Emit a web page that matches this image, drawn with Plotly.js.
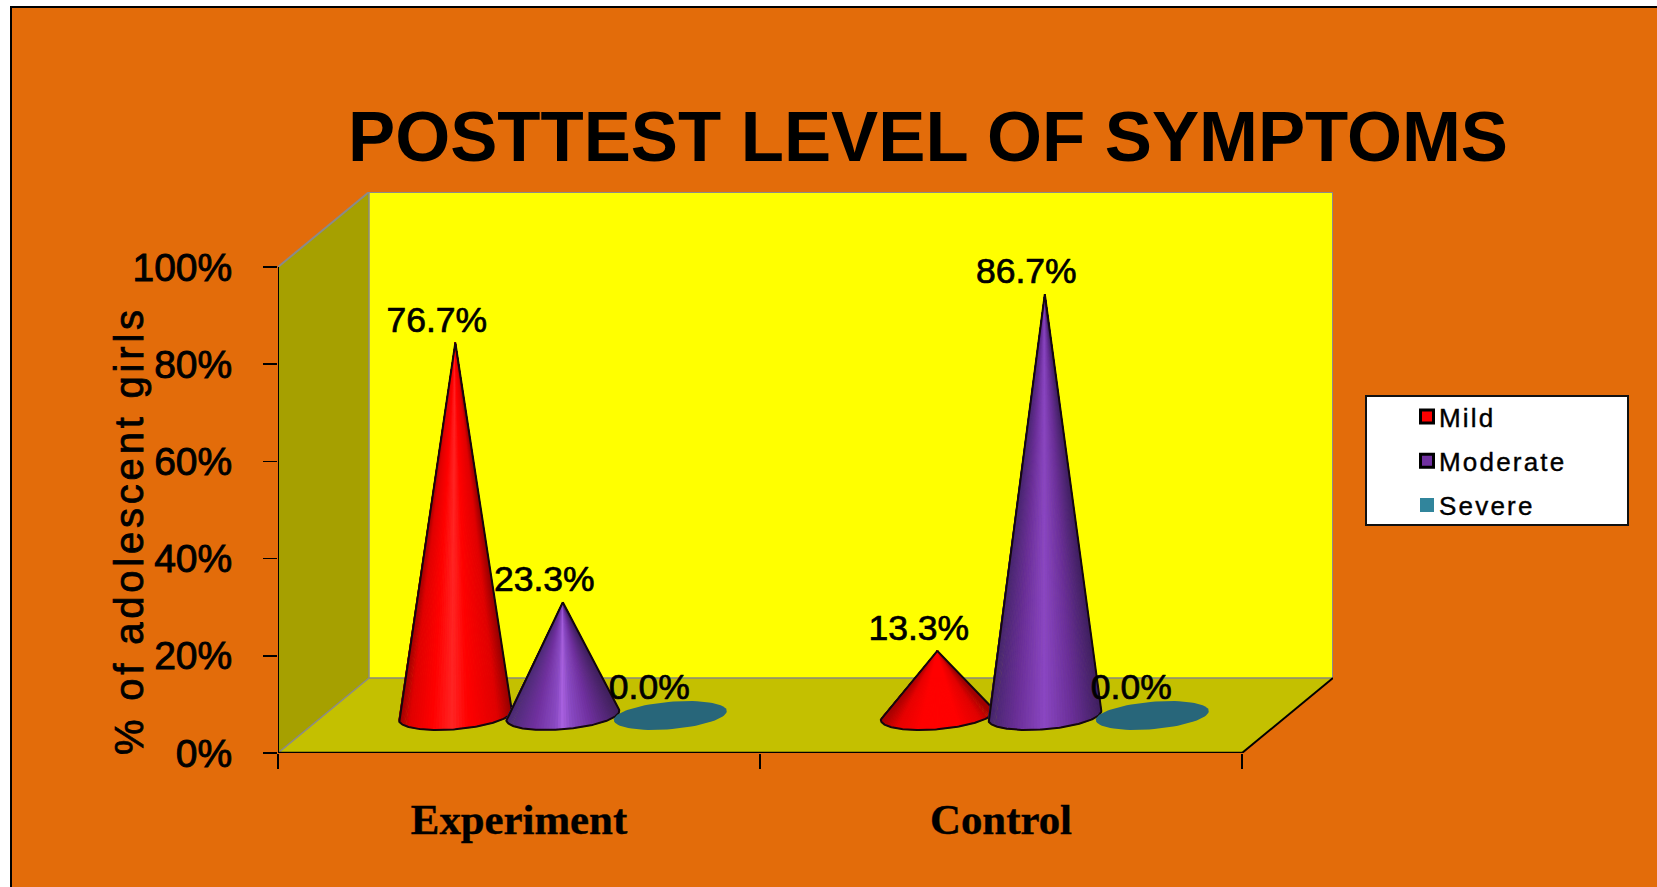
<!DOCTYPE html>
<html>
<head>
<meta charset="utf-8">
<script src="https://cdn.plot.ly/plotly-3.0.1.min.js"></script>
<style>
  html, body { margin: 0; padding: 0; background: #fff; overflow: hidden; }
  #chart { width: 1657px; height: 887px; }
  .legendtext { letter-spacing: 2.2px; stroke: #000; stroke-width: 0.4px; }
  .legendpoints path.scatterpts { transform: translate(28px, 0); }
  .annotation-text { letter-spacing: 3.8px; stroke: #000; stroke-width: 0.8px; }
  .ytick text { stroke: #000; stroke-width: 0.9px; }
  .xtick text { stroke: #000; stroke-width: 0.4px; }
  .textpoint text { stroke: #000; stroke-width: 0.7px; }
</style>
</head>
<body>
<div id="chart"></div>
<script>
// Survey results: share of girls at each symptom level after the posttest.
const categories = ['Experiment', 'Control'];
const seriesNames = ['Mild', 'Moderate', 'Severe'];
const mildValues = [76.7, 13.3];
const moderateValues = [23.3, 86.7];
const severeValues = [0.0, 0.0];
const yTicks = [0, 20, 40, 60, 80, 100];

const seriesValues = [mildValues, moderateValues, severeValues];

// Pixel frame of the front plane and the oblique depth of the box.
const W = 1657, H = 887;
const FRONT_L = 278, FRONT_B = 753, PX_PER_CAT = 482, PX_PER_PCT = 4.86;
const DEPTH_PX_X = 91, DEPTH_PX_Y = 75;
const PLOT_R = FRONT_L + 2 * PX_PER_CAT + DEPTH_PX_X;
const PLOT_T = FRONT_B - 100 * PX_PER_PCT - DEPTH_PX_Y;

const depthX = DEPTH_PX_X / PX_PER_CAT;      // depth vector in axis units
const depthY = DEPTH_PX_Y / PX_PER_PCT;
const xMax = 2 + depthX, yMax = 100 + depthY;

const baseRadiusX = 0.1114;                  // cone base radius along the category axis
const baseDepth = 0.193;                     // cone base radius as a share of the box depth
const seriesStep = 0.223;                    // spacing of cones within a category
const clusterShift = -0.0035;                // small nudge of each cluster along the category axis

const shading = [
  [[[0, '#9c0000'], [0.1, '#e00000'], [0.3, '#ff0000'], [0.48, '#ff2424'], [0.62, '#ff0000'], [0.88, '#e00000'], [1, '#960000']],
   [[0, '#a80000'], [0.14, '#e80000'], [0.35, '#ff0000'], [0.7, '#ff0000'], [0.9, '#e00000'], [1, '#a00000']]],
  [[[0, '#4a2a74'], [0.25, '#7030a0'], [0.44, '#8a4ac4'], [0.5, '#a860e0'], [0.58, '#8a4ac4'], [0.75, '#7030a0'], [1, '#40205e']],
   [[0, '#45266c'], [0.25, '#6a2f98'], [0.5, '#8a46c2'], [0.75, '#6a2f98'], [1, '#3f2060']]]
];
const flatColor = '#28667a';
const swatchColors = ['#ff0000', '#7030a0', '#31859c'];

const hexToRgb = h => [1, 3, 5].map(i => parseInt(h.substr(i, 2), 16));
function rampColor(stops, u) {
  for (let i = 1; i < stops.length; i++) {
    if (u <= stops[i][0]) {
      const f = (u - stops[i - 1][0]) / (stops[i][0] - stops[i - 1][0]);
      const a = hexToRgb(stops[i - 1][1]), b = hexToRgb(stops[i][1]);
      return 'rgb(' + a.map((v, k) => Math.round(v + (b[k] - v) * f)).join(',') + ')';
    }
  }
  return stops[stops.length - 1][1];
}

// Circle on the floor plane, seen through the oblique projection.
function basePoint(cx, cy, t) {
  return [
    cx + baseRadiusX * Math.cos(t) + baseDepth * depthX * Math.sin(t),
    cy + baseDepth * depthY * Math.sin(t)
  ];
}

function coneTraces(cx, cy, value, stops) {
  const N = 240;
  const apex = [cx, cy + value];
  const ring = [];
  for (let i = 0; i <= N; i++) ring.push(basePoint(cx, cy, Math.PI * 2 * i / N));
  // The rim segments facing the viewer lie on the near side of the tangents from the apex.
  const inFront = ring.slice(0, N).map((p, i) => {
    const q = ring[i + 1];
    return (p[0] - apex[0]) * (q[1] - p[1]) - (p[1] - apex[1]) * (q[0] - p[0]) > 0;
  });
  let start = 0;
  for (let i = 0; i < N; i++) if (inFront[i] && !inFront[(i + N - 1) % N]) start = i;
  const ordered = [];
  for (let k = 0; k < N; k++) {
    const i = (start + k) % N;
    ordered.push(ring[i]);
    if (!inFront[i]) break;
  }
  const arcPts = ordered[0][0] > ordered[ordered.length - 1][0] ? ordered.slice().reverse() : ordered;
  const x0 = arcPts[0][0], x1 = arcPts[arcPts.length - 1][0];

  const traces = [];
  const step = 2;
  for (let i = 0; i + step < arcPts.length; i += step) {
    const seg = arcPts.slice(i, i + step + 1);
    const u = ((seg[0][0] + seg[seg.length - 1][0]) / 2 - x0) / (x1 - x0);
    const colour = rampColor(stops, Math.min(1, Math.max(0, u)));
    traces.push({
      type: 'scatter', mode: 'lines', fill: 'toself', fillcolor: colour,
      x: [apex[0]].concat(seg.map(p => p[0]), apex[0]),
      y: [apex[1]].concat(seg.map(p => p[1]), apex[1]),
      line: { color: colour, width: 1 }, showlegend: false, hoverinfo: 'skip'
    });
  }
  traces.push({
    type: 'scatter', mode: 'lines',
    x: [apex[0]].concat(arcPts.map(p => p[0]), apex[0]),
    y: [apex[1]].concat(arcPts.map(p => p[1]), apex[1]),
    line: { color: '#14080c', width: 2 }, showlegend: false, hoverinfo: 'skip'
  });
  return traces;
}

function flatBase(cx, cy) {
  const xs = [], ys = [];
  for (let i = 0; i <= 72; i++) {
    const p = basePoint(cx, cy, Math.PI * 2 * i / 72);
    xs.push(p[0]); ys.push(p[1]);
  }
  return {
    type: 'scatter', mode: 'lines', fill: 'toself', fillcolor: flatColor, x: xs, y: ys,
    line: { color: flatColor, width: 0 }, showlegend: false, hoverinfo: 'skip'
  };
}

const traces = [];
const labelX = [], labelY = [], labelText = [];
const floorY = depthY / 2;

seriesNames.forEach((name, s) => {
  categories.forEach((cat, c) => {
    const cx = c + 0.5 + depthX / 2 + (s - 1) * seriesStep + clusterShift;
    const v = seriesValues[s][c];
    if (v > 0) traces.push(...coneTraces(cx, floorY, v, shading[s][c]));
    else traces.push(flatBase(cx, floorY));
    labelX.push(cx - (v > 0 ? 18.5 : 21) / PX_PER_CAT);
    labelY.push(floorY + v + (v > 0 ? 20 : 25) / PX_PER_PCT);
    labelText.push(v.toFixed(1) + '%');
  });
});

traces.push({
  type: 'scatter', mode: 'text', x: labelX, y: labelY, text: labelText,
  textposition: 'middle center', cliponaxis: false,
  textfont: { family: 'Liberation Sans', size: 35.5, color: '#000' },
  showlegend: false, hoverinfo: 'skip'
});

// Legend entries
seriesNames.forEach((name, s) => {
  traces.push({
    type: 'scatter', mode: 'markers', name: name, legendgroup: name,
    x: [null], y: [null],
    marker: s < 2
      ? { symbol: 'square', size: 13, color: swatchColors[s], line: { color: '#000', width: 3 } }
      : { symbol: 'square', size: 14, color: swatchColors[s], line: { width: 0 } }
  });
});

const pxToPaperX = px => (px - FRONT_L) / (PLOT_R - FRONT_L);
const pxToPaperY = py => (FRONT_B - py) / (FRONT_B - PLOT_T);

const polygon = pts => 'M ' + pts.map(p => p[0] + ' ' + p[1]).join(' L ') + ' Z';
const segment = (a, b, color, width) => ({
  type: 'line', xref: 'x', yref: 'y', layer: 'below',
  x0: a[0], y0: a[1], x1: b[0], y1: b[1], line: { color, width }
});
const wallShape = (pts, fill) => ({
  type: 'path', xref: 'x', yref: 'y', layer: 'below', path: polygon(pts),
  fillcolor: fill, line: { width: 0 }
});

const shapes = [
  // page panel
  { type: 'rect', xref: 'paper', yref: 'paper', layer: 'below',
    x0: pxToPaperX(11), x1: pxToPaperX(W + 20), y0: pxToPaperY(H + 20), y1: pxToPaperY(7),
    fillcolor: '#e36c0a', line: { color: '#000', width: 2 } },
  // box walls
  wallShape([[depthX, depthY], [xMax, depthY], [xMax, yMax], [depthX, yMax]], '#ffff00'),
  wallShape([[0, 0], [depthX, depthY], [depthX, yMax], [0, 100]], '#a6a000'),
  wallShape([[0, 0], [2, 0], [xMax, depthY], [depthX, depthY]], '#c4c000'),
  // gray box edges
  segment([0, 100], [depthX, yMax], '#8a8a8a', 2),
  segment([depthX, yMax], [xMax, yMax], '#8a8a8a', 2),
  segment([xMax, yMax], [xMax, depthY], '#8a8a8a', 2),
  segment([depthX, yMax], [depthX, depthY], '#8a8a8a', 1.5),
  segment([depthX, depthY], [xMax, depthY], '#8a8a7a', 1.5),
  segment([0, 0], [depthX, depthY], '#8a8a8a', 1.5),
  // black axis edges
  segment([0, 0], [0, 100], '#000', 2),
  segment([0, 0], [2, 0], '#000', 2.5),
  segment([2, 0], [xMax, depthY], '#000', 2),
  // legend panel
  { type: 'rect', xref: 'paper', yref: 'paper', layer: 'below',
    x0: pxToPaperX(1366), x1: pxToPaperX(1628), y0: pxToPaperY(525), y1: pxToPaperY(396),
    fillcolor: '#fff', line: { color: '#111', width: 2 } }
];

const layout = {
  width: W, height: H,
  paper_bgcolor: '#ffffff', plot_bgcolor: 'rgba(0,0,0,0)',
  margin: { l: FRONT_L, r: W - PLOT_R, t: PLOT_T, b: H - FRONT_B, pad: 0, autoexpand: false },
  title: {
    text: 'POSTTEST LEVEL OF SYMPTOMS', x: 928 / W, xanchor: 'center',
    y: 1 - 136 / H, yanchor: 'middle',
    font: { family: 'Liberation Sans', size: 70.7, color: '#000', weight: 'bold' }
  },
  xaxis: {
    range: [0, xMax], showgrid: false, zeroline: false, showline: false,
    tickvals: [0.5, 1.5], ticktext: categories, ticks: '', ticklabelstandoff: 37,
    tickfont: { family: 'Liberation Serif', size: 42.8, color: '#000', weight: 'bold' },
    minor: { tickvals: [0, 1, 2], ticks: 'outside', ticklen: 15, tickcolor: '#000', tickwidth: 1.5, showgrid: false },
    fixedrange: true
  },
  yaxis: {
    range: [0, yMax], showgrid: false, zeroline: false, showline: false,
    tickvals: yTicks, ticktext: yTicks.map(v => v + '%'),
    ticks: 'outside', ticklen: 14, tickcolor: '#000', tickwidth: 1.5, ticklabelstandoff: 23,
    tickfont: { family: 'Liberation Sans', size: 39, color: '#000' },
    fixedrange: true
  },
  annotations: [{
    text: '% of adolescent girls', xref: 'paper', yref: 'paper',
    x: pxToPaperX(129), y: pxToPaperY(531), xanchor: 'center', yanchor: 'middle',
    showarrow: false, textangle: -90,
    font: { family: 'Liberation Sans', size: 40, color: '#000' }
  }],
  legend: {
    xref: 'container', yref: 'container', x: 1399 / W, y: 1 - 393 / H,
    xanchor: 'left', yanchor: 'top', bgcolor: 'rgba(0,0,0,0)', borderwidth: 0,
    font: { family: 'Liberation Sans', size: 26, color: '#000' }, tracegroupgap: 7.5
  },
  shapes,
  showlegend: true,
  hovermode: false
};

Plotly.newPlot('chart', traces, layout, { displayModeBar: false, staticPlot: true });
</script>
</body>
</html>
